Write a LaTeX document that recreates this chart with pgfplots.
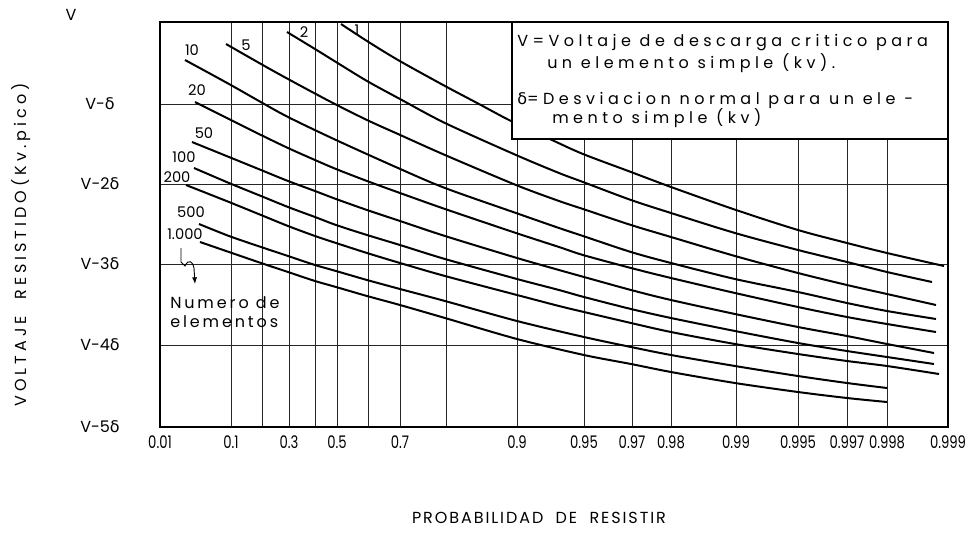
\documentclass[border=0pt]{standalone}
\usepackage{fontspec}
\usepackage{graphicx}
\setmainfont{Poppins}
\newfontfamily\gr{DejaVu Sans}
\newfontfamily\spA{Poppins}[LetterSpace=28]
\newfontfamily\spB{Poppins}[LetterSpace=12]
\newfontfamily\spD{Poppins}[LetterSpace=18]
\newfontfamily\spC{Poppins}[LetterSpace=25]
\usepackage{pgfplots}
\pgfplotsset{compat=1.18}
\usetikzlibrary{arrows.meta}
\newcommand{\dl}{{\gr δ}}
\newcommand{\nl}[1]{\scalebox{0.76}[1]{#1}}
\begin{document}
\begin{tikzpicture}
\path[use as bounding box] (-120pt,-93pt) rectangle (610.5pt,320.25pt);
\begin{axis}[
  at={(0,0)}, anchor=south west,
  scale only axis, width=591pt, height=303.75pt,
  xmin=161, xmax=949, ymin=22, ymax=427, y dir=reverse,
  clip=false,
  axis line style={line width=1.5pt},
  grid=major, major grid style={line width=0.6pt, black!85},
  major tick length=0pt,
  xtick={161,232,263,290,316,338,369,401,447,518,585,633,672,737,799,848,888,949},
  xticklabels={\nl{0.01},\nl{0.1},,\nl{0.3},,\nl{0.5},,\nl{0.7},,\nl{0.9},\nl{0.95},\nl{0.97},\nl{0.98},\nl{0.99},\nl{0.995},\nl{0.997},\nl{0.998},\nl{0.999}},
  ytick={22,104,184,264,345,427},
  yticklabels={,V-\dl,V-2\dl,V-3\dl,V-4\dl,V-5\dl},
  xticklabel style={font=\fontsize{13}{13}\selectfont, yshift=-3pt},
  yticklabel style={font=\fontsize{12}{12}\selectfont, anchor=center, xshift=-45pt},
  curve/.style={line width=1.5pt, black, solid, smooth, no markers},
]
% n = 1
\addplot[curve] coordinates {(342,24) (368,41) (399,60) (446,86) (480,104) (512,121) (553,140) (584,154) (632,172) (672,187) (737,210) (799,230) (848,243) (888,253) (945,266)};
% n = 2
\addplot[curve] coordinates {(288,32) (316,49) (337,62) (368,81) (401,99) (446,123) (517,155) (560,173) (584,182) (632,200) (672,213) (736,233) (799,250) (848,262) (888,272) (933,282)};
% n = 5
\addplot[curve] coordinates {(227,44) (262,64) (289,79) (332,102) (368,120) (399,134) (446,155) (517,185) (560,201) (584,209) (632,225) (672,237) (736,256) (799,273) (848,285) (888,294) (937,305)};
% n = 10
\addplot[curve] coordinates {(186,60) (230,84) (260,101) (289,117) (337,140) (399,168) (446,188) (517,213) (560,228) (584,236) (632,252) (672,263) (736,279) (799,292) (848,303) (888,311) (937,319)};
% n = 20
\addplot[curve] coordinates {(196,102) (230,119) (262,135) (289,148) (316,160) (337,169) (368,181) (401,193) (446,209) (517,233) (560,247) (584,255) (632,268) (672,278) (736,293) (799,307) (848,317) (888,324) (937,332)};
% n = 50
\addplot[curve] coordinates {(193,142) (230,157) (262,170) (289,181) (316,191) (337,199) (368,210) (401,221) (446,236) (518,258) (560,270) (585,277) (632,290) (672,300) (736,314) (799,327) (848,336) (888,344) (935,353)};
% n = 100
\addplot[curve] coordinates {(195,168) (230,183) (262,196) (289,207) (316,217) (337,225) (368,235) (401,245) (446,259) (518,279) (560,290) (585,297) (632,309) (672,318) (736,331) (799,343) (848,351) (888,357) (935,364)};
% n = 200
\addplot[curve] coordinates {(187,185) (230,202) (262,215) (289,226) (316,236) (337,243) (368,253) (401,263) (446,276) (518,295) (560,306) (585,312) (632,323) (672,332) (736,344) (799,354) (848,361) (888,366) (940,374)};
% n = 500
\addplot[curve] coordinates {(200,224) (230,236) (262,247) (289,256) (316,265) (337,271) (368,280) (401,289) (446,301) (518,321) (585,337) (632,347) (672,355) (736,366) (799,376) (848,383) (888,388)};
% n = 1000
\addplot[curve] coordinates {(201,242) (230,252) (262,263) (289,272) (316,281) (337,287) (368,296) (401,305) (446,318) (518,339) (585,355) (632,364) (672,372) (736,383) (799,392) (848,398) (888,402)};

% legend box
\draw[line width=1.6pt, fill=white] (axis cs:513,22) rectangle (axis cs:949,139);
\begin{scope}[every node/.style={anchor=west, inner sep=0pt, font=\spA\fontsize{12}{12}\selectfont}]
\node at (axis cs:518,43) {V=Voltaje de descarga critico para};
\node at (axis cs:548,63) {un elemento simple (kv).};
\node at (axis cs:518,100) {\dl=Desviacion normal para un ele -};
\node at (axis cs:553,118) {mento simple (kv)};
\end{scope}

% curve labels
\begin{scope}[every node/.style={inner sep=0pt, font=\fontsize{11}{11}\selectfont}]
\node at (axis cs:358,30) {1};
\node at (axis cs:305,32) {2};
\node at (axis cs:247,45) {5};
\node at (axis cs:193,50) {10};
\node at (axis cs:198,90) {20};
\node at (axis cs:205,133) {50};
\node at (axis cs:185,157) {100};
\node at (axis cs:178,177) {200};
\node at (axis cs:192,212) {500};
\node at (axis cs:186,234) {1.000};
\end{scope}
\draw[line width=0.7pt, -{Latex[length=5pt]}] (axis cs:182,248) -- (axis cs:182,262) -- (axis cs:186,266) .. controls (axis cs:190,258) and (axis cs:194,262) .. (axis cs:195,268) -- (axis cs:196,284);
\node[anchor=west, inner sep=0pt, font=\spD\fontsize{12}{14}\selectfont, align=left] at (axis cs:171,312) {Numero de\\elementos};

% axis titles and top label
\node[font=\fontsize{12}{12}\selectfont] at (axis cs:72,15) {V};
\node[rotate=90, font=\spC\fontsize{12}{12}\selectfont] at (axis cs:22,245) {VOLTAJE \ RESISTIDO(Kv.pico)};
\node[font=\spB\fontsize{12}{12}\selectfont] at (axis cs:540,518) {PROBABILIDAD \ DE \ RESISTIR};
\end{axis}
\end{tikzpicture}
\end{document}
